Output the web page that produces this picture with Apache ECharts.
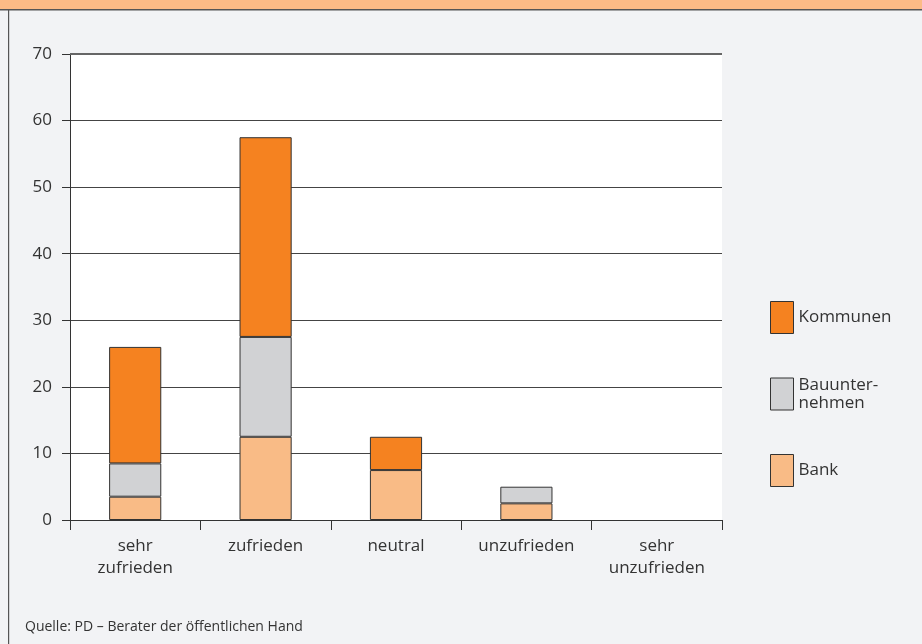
<!DOCTYPE html>
<html><head><meta charset="utf-8">
<script src="https://cdn.jsdelivr.net/npm/echarts@6/dist/echarts.min.js"></script>
<style>html,body{margin:0;padding:0;background:#f2f3f5;}#c{width:922px;height:644px;}</style>
</head><body><div id="c"></div>
<script>
const categories = ['sehr\nzufrieden', 'zufrieden', 'neutral', 'unzufrieden', 'sehr\nunzufrieden'];
const bank = [3.5, 12.5, 7.5, 2.5, 0];
const bauunternehmen = [5, 15, 0, 2.5, 0];
const kommunen = [17.5, 30, 5, 0, 0];
const yTicks = [0, 10, 20, 30, 40, 50, 60, 70];
const source = 'Quelle: PD – Berater der öffentlichen Hand';

const font = '"Open Sans", "DejaVu Sans", sans-serif';
const noZero = arr => arr.map(v => v === 0 ? '-' : v);
const chart = echarts.init(document.getElementById('c'));
const border = { borderColor: '#333', borderWidth: 1 };
chart.setOption({
  backgroundColor: '#f2f3f5',
  animation: false,
  textStyle: { fontFamily: font, color: '#333' },
  graphic: [
    { type: 'rect', shape: { x: 0, y: 0, width: 922, height: 9 }, style: { fill: '#fcbb86' } },
    { type: 'rect', shape: { x: 0, y: 9, width: 922, height: 1.5 }, style: { fill: '#555' } },
    { type: 'rect', shape: { x: 8, y: 9, width: 1.2, height: 640 }, style: { fill: '#555' } },
    { type: 'text', left: 25, top: 620, style: { text: source, font: '14px ' + font, fill: '#333' } }
  ],
  grid: { left: 70, right: 200, top: 54, bottom: 124, show: true, backgroundColor: '#fff', borderWidth: 0 },
  legend: {
    orient: 'vertical', left: 765, top: 296, itemWidth: 23, itemHeight: 32, itemGap: 42,
    icon: 'rect',
    data: ['Kommunen', 'Bauunternehmen', 'Bank'],
    formatter: n => n === 'Bauunternehmen' ? 'Bauunter-\nnehmen' : n,
    textStyle: { fontSize: 17, color: '#333', lineHeight: 18, fontFamily: font },
    itemStyle: { borderColor: '#333', borderWidth: 1 }
  },
  xAxis: {
    type: 'category', data: categories,
    axisLine: { lineStyle: { color: '#333', width: 1 } },
    axisTick: { show: true, length: 10, interval: 0, lineStyle: { color: '#333' } },
    axisLabel: { interval: 0, margin: 15, fontSize: 17, lineHeight: 22, color: '#333', fontFamily: font }
  },
  yAxis: {
    type: 'value', min: 0, max: 70, interval: 10,
    axisLine: { show: true, lineStyle: { color: '#333' } },
    axisTick: { show: true, length: 8, lineStyle: { color: '#333' } },
    axisLabel: { fontSize: 17, margin: 18, color: '#333', fontFamily: font,
      formatter: v => yTicks.includes(v) ? String(v) : '' },
    splitLine: { lineStyle: { color: '#444', width: 1 } }
  },
  series: [
    { name: 'Bank', type: 'bar', stack: 's', barWidth: '40%', data: noZero(bank),
      itemStyle: Object.assign({ color: '#f9bb86' }, border) },
    { name: 'Bauunternehmen', type: 'bar', stack: 's', barWidth: '40%', data: noZero(bauunternehmen),
      itemStyle: Object.assign({ color: '#d1d2d4' }, border) },
    { name: 'Kommunen', type: 'bar', stack: 's', barWidth: '40%', data: noZero(kommunen),
      itemStyle: Object.assign({ color: '#f58220' }, border),
      markLine: { silent: true, symbol: 'none', label: { show: false },
        lineStyle: { color: '#666', width: 2, type: 'solid' }, data: [{ yAxis: 70 }] } }
  ]
});
</script></body></html>
